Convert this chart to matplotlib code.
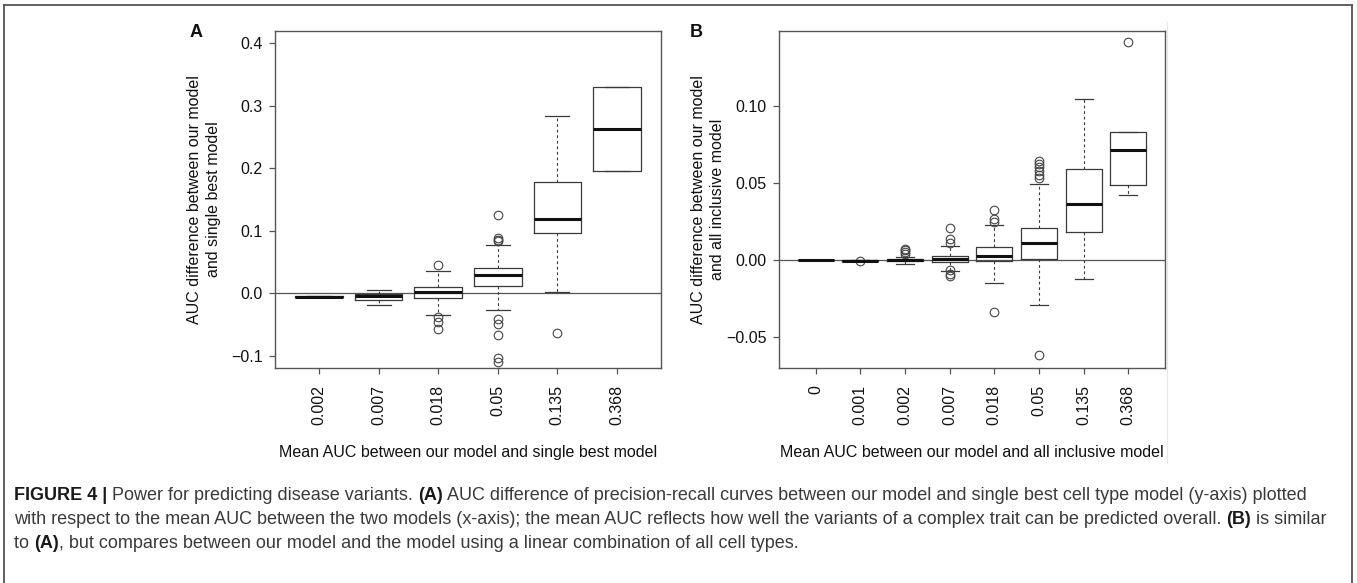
import matplotlib
matplotlib.use("Agg")
import matplotlib.pyplot as plt
from matplotlib.lines import Line2D

plt.rcParams['font.family'] = ['Liberation Sans', 'DejaVu Sans']

# ---------------- data ----------------
# Panel A: AUC difference (our model - single best model)
a_labels = ["0.002", "0.007", "0.018", "0.05", "0.135", "0.368"]
a_whislo = [-0.006, -0.018, -0.034, -0.027, 0.003, 0.1955]
a_q1     = [-0.0055, -0.011, -0.008, 0.012, 0.097, 0.1955]
a_med    = [-0.005, -0.004, 0.002, 0.029, 0.119, 0.2625]
a_q3     = [-0.0045, -0.001, 0.011, 0.040, 0.178, 0.329]
a_whishi = [-0.004, 0.006, 0.036, 0.078, 0.284, 0.329]
a_fliers = [
    [],
    [],
    [0.046, -0.038, -0.046, -0.056],
    [0.126, 0.088, 0.085, 0.083, -0.040, -0.048, -0.066, -0.103, -0.109],
    [-0.063],
    [],
]

# Panel B: AUC difference (our model - all inclusive model)
b_labels = ["0", "0.001", "0.002", "0.007", "0.018", "0.05", "0.135", "0.368"]
b_whislo = [0.0, -0.0005, -0.0026, -0.007, -0.0145, -0.0288, -0.0119, 0.0422]
b_q1     = [0.0, -0.0003, -0.0007, -0.001, -0.0004, 0.001, 0.0184, 0.0491]
b_med    = [0.0, -0.0002, 0.0, 0.0006, 0.003, 0.0115, 0.0364, 0.0719]
b_q3     = [0.0, 0.0, 0.0007, 0.003, 0.0087, 0.021, 0.059, 0.0831]
b_whishi = [0.0, 0.0002, 0.002, 0.0095, 0.0227, 0.0496, 0.105, 0.0831]
b_fliers = [
    [],
    [-0.0007],
    [0.0076, 0.0065, 0.0054, 0.0043],
    [0.021, 0.0141, 0.0112, -0.0065, -0.0087, -0.0105],
    [0.033, 0.0266, 0.025, -0.0335],
    [0.0645, 0.0628, 0.0606, 0.0578, 0.0552, 0.0537, -0.0617],
    [],
    [0.1418],
]

a_yticks = [-0.1, 0.0, 0.1, 0.2, 0.3, 0.4]
a_yticklabels = ["\u22120.1", "0.0", "0.1", "0.2", "0.3", "0.4"]
b_yticks = [-0.05, 0.0, 0.05, 0.10]
b_yticklabels = ["\u22120.05", "0.00", "0.05", "0.10"]

a_ylabel = "AUC difference between our model\nand single best model"
b_ylabel = "AUC difference between our model\nand all inclusive model"
a_xlabel = "Mean AUC between our model and single best model"
b_xlabel = "Mean AUC between our model and all inclusive model"

caption_lines = [
    [("FIGURE 4 |", True), (" Power for predicting disease variants. ", False), ("(A)", True),
     (" AUC difference of precision-recall curves between our model and single best cell type model (y-axis) plotted", False)],
    [("with respect to the mean AUC between the two models (x-axis); the mean AUC reflects how well the variants of a complex trait can be predicted overall. ", False),
     ("(B)", True), (" is similar", False)],
    [("to ", False), ("(A)", True), (", but compares between our model and the model using a linear combination of all cell types.", False)],
]

# ---------------- figure ----------------
W, H = 1357, 583
fig = plt.figure(figsize=(W / 100, H / 100), dpi=100)
fig.patch.set_facecolor("white")

def px_axes(x0, y0, x1, y1):
    return fig.add_axes([x0 / W, 1 - y1 / H, (x1 - x0) / W, (y1 - y0) / H])

axA = px_axes(275, 31, 661, 368)
axB = px_axes(779, 31, 1165, 368)

FS = 11.5
LINE_C = "#3a3a3a"

def draw_panel(ax, labels, wlo, q1, med, q3, whi, fliers, ylim, yticks, yticklabels, ylabel, xlabel):
    stats = []
    for i in range(len(labels)):
        stats.append(dict(label=labels[i], whislo=wlo[i], q1=q1[i], med=med[i],
                          q3=q3[i], whishi=whi[i], fliers=fliers[i]))
    n = len(labels)
    ax.axhline(0, color="#555555", lw=0.9, zorder=1)
    ax.bxp(stats, positions=list(range(1, n + 1)), widths=0.8, capwidths=0.4,
           showfliers=True, patch_artist=False,
           boxprops=dict(color=LINE_C, lw=0.9),
           medianprops=dict(color="#111111", lw=2.2, solid_capstyle="butt"),
           whiskerprops=dict(color=LINE_C, lw=0.8, linestyle=(0, (2.5, 2.5))),
           capprops=dict(color=LINE_C, lw=0.9),
           flierprops=dict(marker="o", markersize=6.2, markerfacecolor="none",
                           markeredgecolor="#444444", markeredgewidth=0.8, linestyle="none"))
    ax.set_xlim(0.5 - 0.04 * n, n + 0.5 + 0.04 * n)
    ax.set_ylim(*ylim)
    ax.set_yticks(yticks)
    ax.set_yticklabels(yticklabels)
    ax.set_xticks(list(range(1, n + 1)))
    ax.set_xticklabels(labels, rotation=90, va="top", ha="center")
    for sp in ax.spines.values():
        sp.set_color("#555555")
        sp.set_linewidth(1.0)
    ax.tick_params(axis="both", direction="out", length=4.5, width=0.9, color="#555555",
                   labelsize=FS, labelcolor="#111111")
    ax.tick_params(axis="y", pad=4.5)
    ax.tick_params(axis="x", pad=8)
    ax.set_ylabel(ylabel, fontsize=FS, color="#111111", linespacing=1.3)
    ax.yaxis.set_label_coords(-0.14, 0.5)
    ax.set_xlabel(xlabel, fontsize=FS, color="#111111")
    ax.xaxis.set_label_coords(0.5, -0.252)
    ax.xaxis.label.set_va("center")

draw_panel(axA, a_labels, a_whislo, a_q1, a_med, a_q3, a_whishi, a_fliers,
           (-0.119, 0.419), a_yticks, a_yticklabels, a_ylabel, a_xlabel)
draw_panel(axB, b_labels, b_whislo, b_q1, b_med, b_q3, b_whishi, b_fliers,
           (-0.070, 0.149), b_yticks, b_yticklabels, b_ylabel, b_xlabel)

# panel letters
fig.text(190 / W, 1 - 24 / H, "A", fontsize=13, fontweight="bold", ha="left", va="top", color="#111111")
fig.text(690 / W, 1 - 24 / H, "B", fontsize=13, fontweight="bold", ha="left", va="top", color="#111111")

# outer frame and faint image edge
fig.add_artist(Line2D([3.5 / W, 3.5 / W], [0, 1 - 4.5 / H], transform=fig.transFigure, color="#555555", lw=1.3))
fig.add_artist(Line2D([1352 / W, 1352 / W], [0, 1 - 4.5 / H], transform=fig.transFigure, color="#555555", lw=1.3))
fig.add_artist(Line2D([3.5 / W, 1352 / W], [1 - 4.5 / H, 1 - 4.5 / H], transform=fig.transFigure, color="#555555", lw=1.3))
fig.add_artist(Line2D([1167 / W, 1167 / W], [1 - 463 / H, 1 - 22 / H], transform=fig.transFigure, color="#e8e8e8", lw=0.8))

# caption (mixed bold / regular text, segments placed on a common baseline)
CAP_FS = 13
line_base = [500, 524, 548]
renderer = fig.canvas.get_renderer()
for segs, yb in zip(caption_lines, line_base):
    x = 14.0
    for txt, bold in segs:
        t = fig.text(x / W, 1 - yb / H, txt, ha="left", va="baseline",
                     fontsize=CAP_FS, fontweight="bold" if bold else "normal",
                     color="#1a1a1a" if bold else "#3a3a3a")
        bb = t.get_window_extent(renderer)
        x = bb.x1

fig.savefig("out.png", dpi=100, facecolor="white")
